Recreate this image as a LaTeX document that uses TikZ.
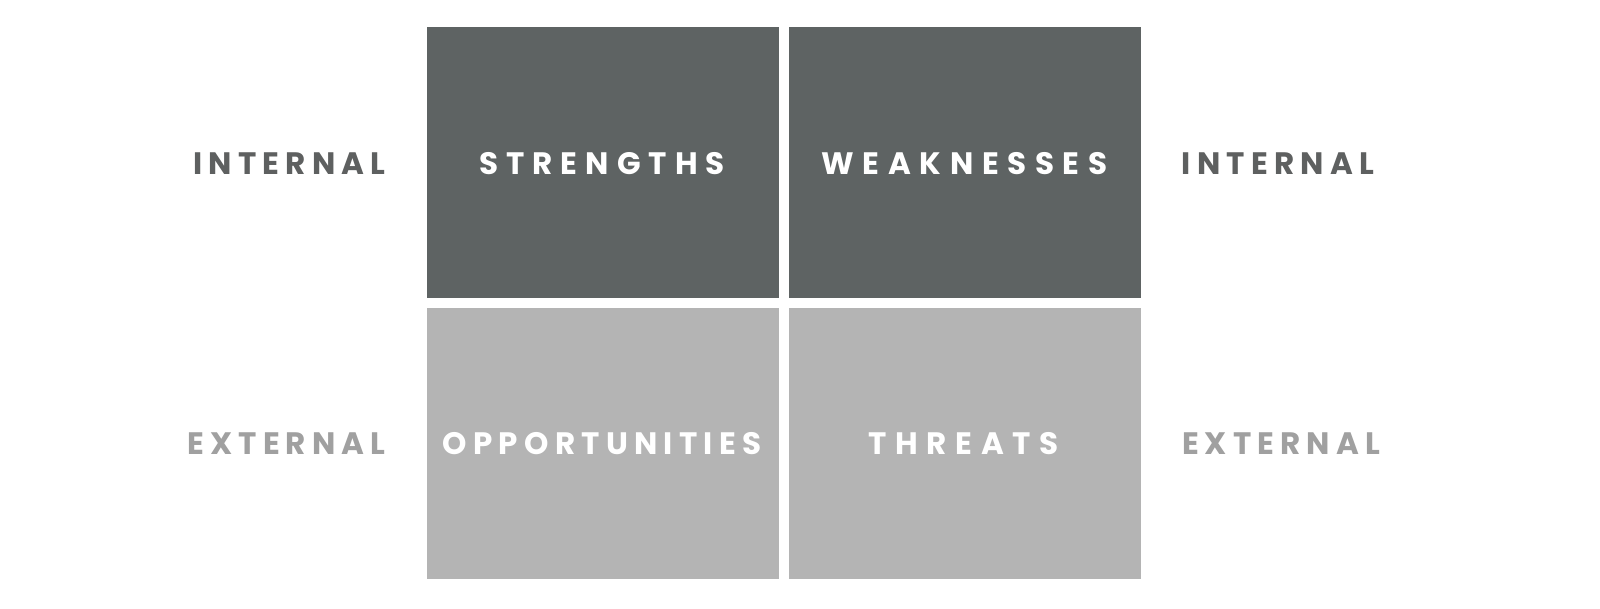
\documentclass[tikz,border=0pt]{standalone}
\usepackage{fontspec}
\setmainfont{Poppins}
\definecolor{darkbox}{HTML}{5E6363}
\definecolor{lightbox}{HTML}{B4B4B4}
\definecolor{intcol}{HTML}{5E6060}
\definecolor{extcol}{HTML}{A0A0A0}
\begin{document}
\begin{tikzpicture}[x=1pt,y=-1pt,
  quad/.style={draw=none,inner sep=0pt,minimum width=352pt,minimum height=271pt,anchor=north west},
  lbl/.style={font=\fontsize{31}{33}\selectfont\bfseries\addfontfeatures{LetterSpace=#1},inner sep=0pt}]
\useasboundingbox[fill=white] (0,0) rectangle (1600,609);
\node[quad,fill=darkbox] (s) at (427,27) {};
\node[quad,fill=darkbox] (w) at (789,27) {};
\node[quad,fill=lightbox] (o) at (427,308) {};
\node[quad,fill=lightbox] (t) at (789,308) {};
\node[lbl=26,text=white] (st) at (602,164) {STRENGTHS};
\node[lbl=28,text=white] (wt) at (964.5,164) {WEAKNESSES};
\node[lbl=20.3,text=white] (ot) at (602,444) {OPPORTUNITIES};
\node[lbl=28,text=white] (tt) at (963.5,444) {THREATS};
\node[lbl=20,text=intcol] (il) at (289.5,164) {INTERNAL};
\node[lbl=20,text=intcol] (ir) at (1278,164) {INTERNAL};
\node[lbl=19.6,text=extcol] (el) at (286.5,444) {EXTERNAL};
\node[lbl=19.6,text=extcol] (er) at (1281,444) {EXTERNAL};
\end{tikzpicture}
\end{document}
